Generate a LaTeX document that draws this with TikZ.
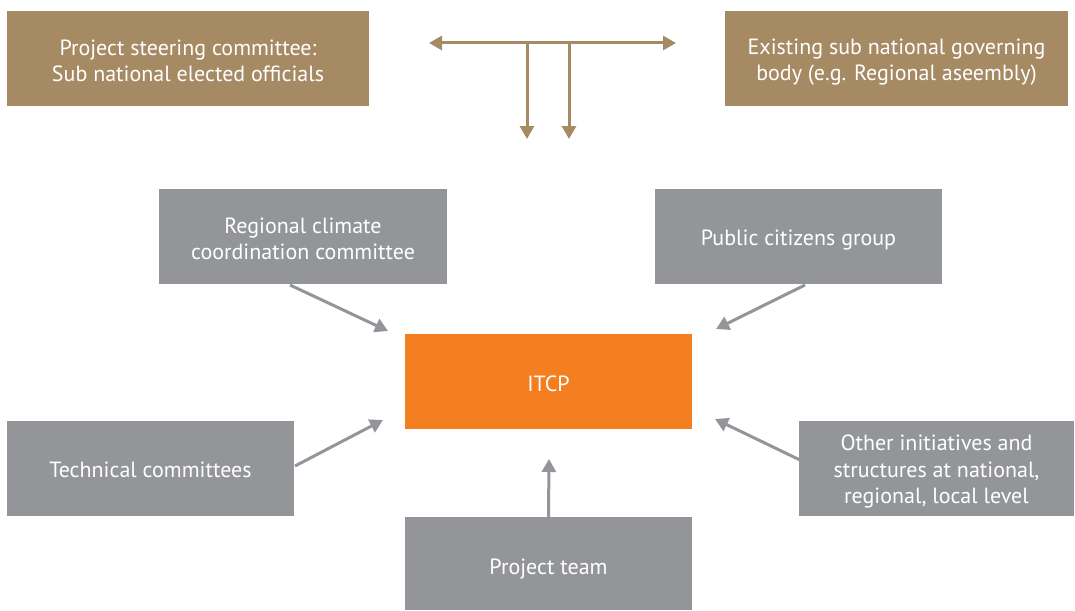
\documentclass[tikz,border=0pt]{standalone}
\usepackage{fontspec}
\setmainfont{PT Sans}
\usetikzlibrary{arrows.meta}
\definecolor{brownbox}{HTML}{A68A64}
\definecolor{greybox}{HTML}{939598}
\definecolor{orangebox}{HTML}{F47F20}
\begin{document}
\begin{tikzpicture}[x=1pt,y=-1pt,
  box/.style={draw=none,minimum width=#1,minimum height=95pt,inner sep=0pt},
  box/.default=288pt,
  bbox/.style={box=#1,fill=brownbox},
  gbox/.style={box=#1,fill=greybox},
  txt/.style={inner sep=0pt,align=center,text=white,font=\fontsize{22}{26.5}\selectfont},
  garrow/.style={draw=greybox,line width=3pt,-{Triangle[length=13pt,width=14pt]}},
  barrow/.style={draw=brownbox,line width=3pt,-{Triangle[length=13pt,width=14pt]}}]
\useasboundingbox (0,0) rectangle (1075,610);
\node[bbox=362pt] (psc) at (188,58.5) {};
\node[bbox=343pt] (esn) at (896.5,58.5) {};
\node[gbox=288pt] (rcc) at (303,236.5) {};
\node[gbox=287pt] (pcg) at (798.5,236.5) {};
\node[box=287pt,fill=orangebox] (itcp) at (548.5,381.5) {};
\node[gbox=287pt] (tc) at (150.5,468.5) {};
\node[gbox=275pt] (oth) at (936.5,468.5) {};
\node[gbox=287pt,minimum height=93pt] (pt) at (548.5,563.5) {};
\node[txt] (psc-t) at ([yshift=-2.5pt]psc.center) {Project steering committee:\\Sub national elected officials};
\node[txt] (esn-t) at ([yshift=-3.5pt]esn.center) {Existing sub national governing\\body (e.g. Regional aseembly)};
\node[txt] (rcc-t) at ([yshift=-2.5pt]rcc.center) {Regional climate\\coordination committee};
\node[txt] (pcg-t) at ([yshift=-3.5pt]pcg.center) {Public citizens group};
\node[txt] (itcp-t) at ([yshift=-2pt]itcp.center) {ITCP};
\node[txt] (tc-t) at ([yshift=-1.5pt]tc.center) {Technical committees};
\node[txt] (oth-t) at ([yshift=-3pt]oth.center) {Other initiatives and\\structures at national,\\regional, local level};
\node[txt] (pt-t) at ([yshift=-5.5pt]pt.center) {Project team};
% top arrows
\coordinate (hl) at (429,43);
\coordinate (hr) at (676,43);
\coordinate (j1) at (527,43);
\coordinate (j2) at (569,43);
\coordinate (d1) at (527,139);
\coordinate (d2) at (569,139);
\draw[barrow,{Triangle[length=13pt,width=14pt]}-{Triangle[length=13pt,width=14pt]}] (hl) -- (hr);
\draw[barrow] (j1) -- (d1);
\draw[barrow] (j2) -- (d2);
% grey arrows
\coordinate (a1s) at (290,285);
\coordinate (a1e) at (388,331);
\coordinate (a2s) at (805,285);
\coordinate (a2e) at (716,329);
\coordinate (a3s) at (295,466);
\coordinate (a3e) at (383,420);
\coordinate (a4s) at (800,460);
\coordinate (a4e) at (715,419);
\coordinate (a5e) at (549,459);
\draw[garrow] (a1s) -- (a1e);
\draw[garrow] (a2s) -- (a2e);
\draw[garrow] (a3s) -- (a3e);
\draw[garrow] (a4s) -- (a4e);
\draw[garrow] (pt.north) -- (a5e);
\end{tikzpicture}
\end{document}
